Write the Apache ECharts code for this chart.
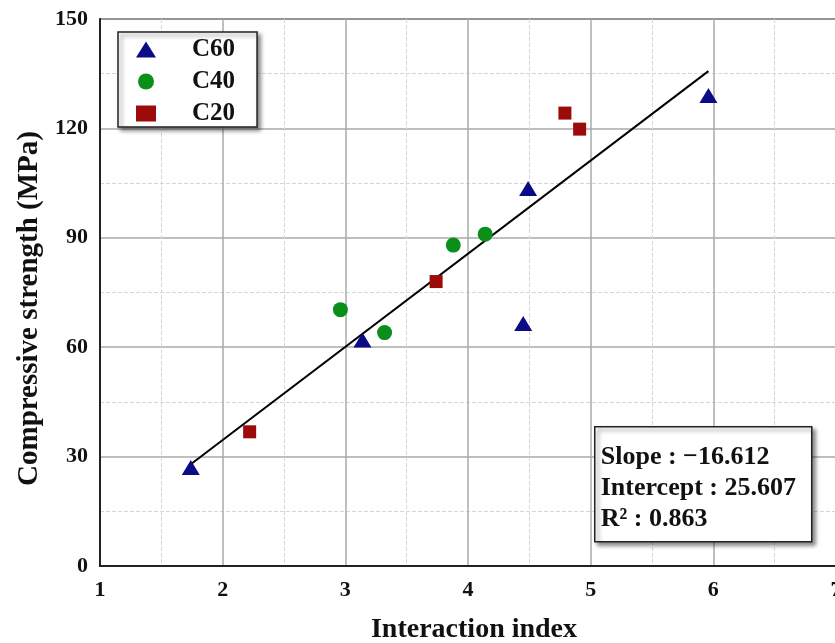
<!DOCTYPE html>
<html>
<head>
<meta charset="utf-8">
<script src="https://cdn.jsdelivr.net/npm/echarts@6/dist/echarts.min.js"></script>
<style>
  html, body { margin: 0; padding: 0; background: #fff; }
  #chart { width: 835px; height: 643px; }
</style>
</head>
<body>
<div id="chart"></div>
<script>
// values
var c60Data = [[1.74, 27], [3.14, 62], [4.45, 66.5], [4.49, 103.5], [5.96, 129]]
var c40Data = [[2.96, 70.3], [3.32, 64], [3.88, 88], [4.14, 91]]
var c20Data = [[2.22, 36.8], [3.74, 78], [4.79, 124.2], [4.91, 119.8]]
var fitLine = [[1.74, 27.9], [5.96, 135.7]]
var statLines = ['Slope : \u221216.612', 'Intercept : 25.607', 'R\u00b2 : 0.863']

var font = '"Liberation Serif", "Times New Roman", serif'

var chart = echarts.init(document.getElementById('chart'))
var option = {
  backgroundColor: '#fff',
  animation: false,
  grid: {
    left: 100,
    top: 19,
    width: 736,
    height: 547,
    containLabel: false,
    outerBoundsMode: 'none',
    show: true,
    borderColor: '#222',
    borderWidth: 1.5
  },
  legend: {
    orient: 'vertical',
    left: 118,
    top: 32,
    padding: [5, 22, 1, 18],
    itemGap: 7,
    itemWidth: 20,
    itemHeight: 16,
    backgroundColor: '#fff',
    borderColor: '#222',
    borderWidth: 1.5,
    shadowColor: 'rgba(0,0,0,0.45)',
    shadowBlur: 4,
    shadowOffsetX: 3,
    shadowOffsetY: 3,
    textStyle: {
      fontFamily: font,
      fontWeight: 'bold',
      fontSize: 25,
      lineHeight: 24,
      color: '#111',
      padding: [0, 0, 0, 31]
    },
    data: [
      { name: 'C60', icon: 'triangle' },
      { name: 'C40', icon: 'circle' },
      { name: 'C20', icon: 'rect' }
    ]
  },
  xAxis: {
    type: 'value',
    min: 1,
    max: 7,
    interval: 1,
    name: 'Interaction index',
    nameLocation: 'middle',
    nameGap: 50,
    nameTextStyle: { fontFamily: font, fontWeight: 'bold', fontSize: 28, color: '#111', padding: [0, 0, 0, 12] },
    axisLine: { show: true, onZero: false, lineStyle: { color: '#222', width: 2 } },
    axisTick: { show: false },
    axisLabel: { fontFamily: font, fontWeight: 'bold', fontSize: 22, color: '#111', margin: 13, showMaxLabel: true },
    splitLine: { show: true, lineStyle: { color: '#aaa', width: 1.5 } },
    minorTick: { show: false, splitNumber: 2 },
    minorSplitLine: { show: true, lineStyle: { color: '#d6d6d6', type: 'dashed', width: 1 } }
  },
  yAxis: {
    type: 'value',
    min: 0,
    max: 150,
    interval: 30,
    name: 'Compressive strength (MPa)',
    nameLocation: 'middle',
    nameGap: 53,
    nameTextStyle: { fontFamily: font, fontWeight: 'bold', fontSize: 29, color: '#111', padding: [0, 32, 0, 0] },
    axisLine: { show: true, onZero: false, lineStyle: { color: '#222', width: 2 } },
    axisTick: { show: false },
    axisLabel: { fontFamily: font, fontWeight: 'bold', fontSize: 22, color: '#111', margin: 12 },
    splitLine: { show: true, lineStyle: { color: '#aaa', width: 1.5 } },
    minorTick: { show: false, splitNumber: 2 },
    minorSplitLine: { show: true, lineStyle: { color: '#d6d6d6', type: 'dashed', width: 1 } }
  },
  series: [
    {
      name: 'fit',
      type: 'line',
      data: fitLine,
      showSymbol: false,
      lineStyle: { color: '#000', width: 2 },
      z: 1
    },
    {
      name: 'C60',
      type: 'scatter',
      symbol: 'triangle',
      symbolSize: [18, 15],
      data: c60Data,
      itemStyle: { color: '#0b0b86', opacity: 1 },
      z: 3
    },
    {
      name: 'C40',
      type: 'scatter',
      symbol: 'circle',
      symbolSize: 15,
      data: c40Data,
      itemStyle: { color: '#0a8f1a', opacity: 1 },
      z: 3
    },
    {
      name: 'C20',
      type: 'scatter',
      symbol: 'rect',
      symbolSize: 13,
      data: c20Data,
      itemStyle: { color: '#9c0a0a', opacity: 1 },
      z: 3
    }
  ],
  graphic: [
    {
      type: 'group',
      left: 594,
      top: 426,
      z: 100,
      children: [
        {
          type: 'rect',
          z: 100,
          shape: { x: 0, y: 0, width: 217, height: 115 },
          style: {
            fill: '#fff',
            stroke: '#222',
            lineWidth: 1.5,
            shadowColor: 'rgba(0,0,0,0.45)',
            shadowBlur: 4,
            shadowOffsetX: 3,
            shadowOffsetY: 3
          }
        },
        {
          type: 'text',
          z: 101,
          x: 6,
          y: 15,
          style: {
            text: statLines.join('\n'),
            font: 'bold 26px ' + font,
            lineHeight: 31,
            fill: '#111'
          }
        }
      ]
    }
  ]
}
chart.setOption(option)
</script>
</body>
</html>
